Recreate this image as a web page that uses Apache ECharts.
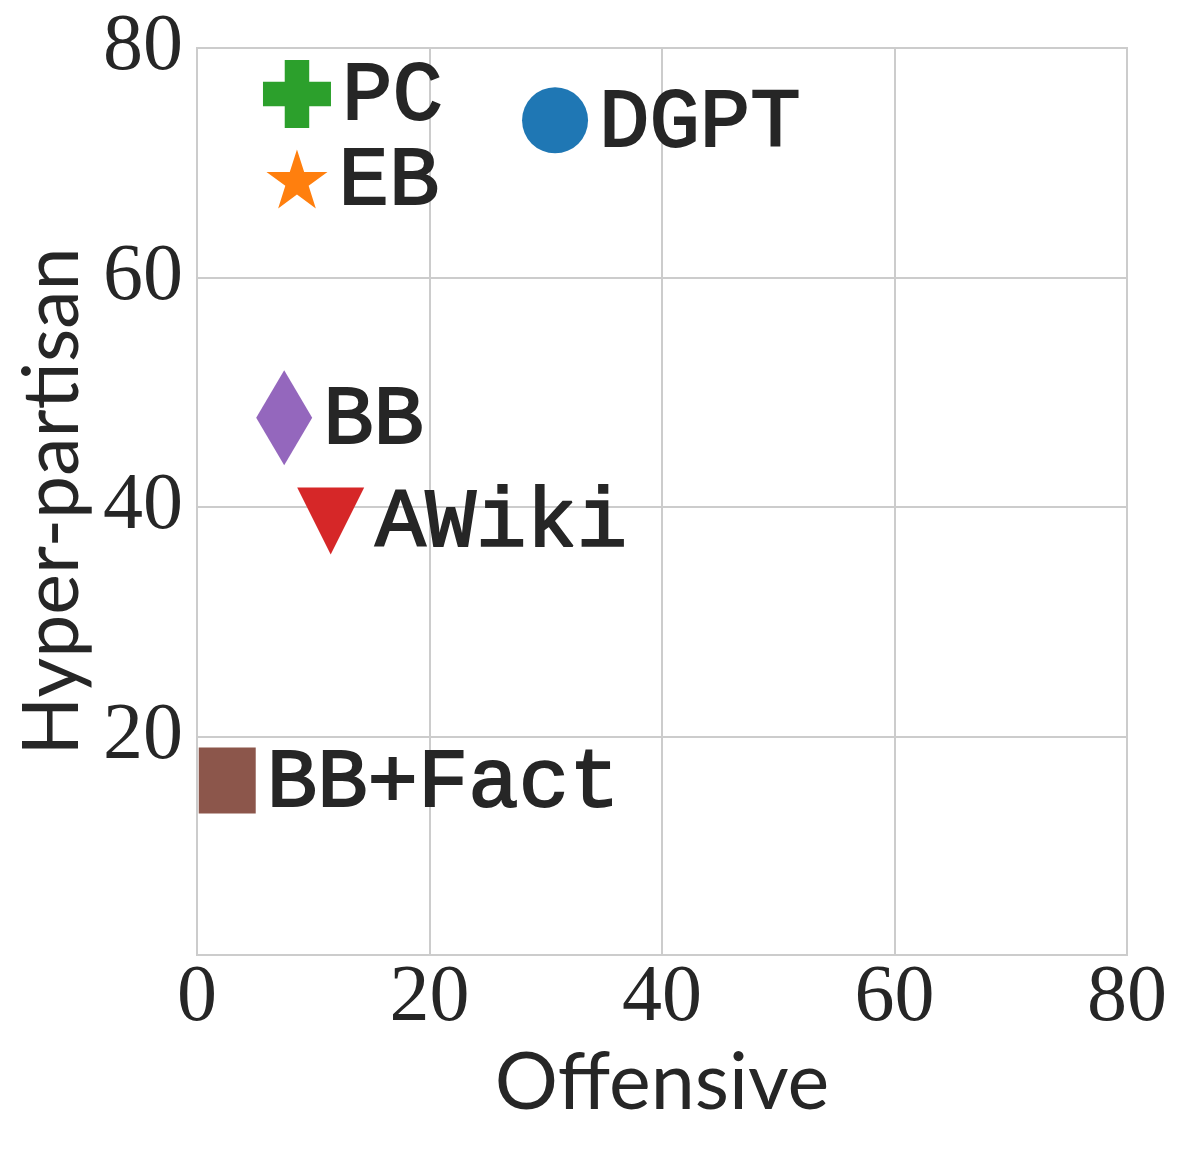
<!DOCTYPE html>
<html>
<head>
<meta charset="utf-8">
<title>Offensive vs Hyper-partisan</title>
<script src="https://cdn.jsdelivr.net/npm/echarts@6/dist/echarts.min.js"></script>
<style>
  html, body { margin: 0; padding: 0; background: #ffffff; }
  #chart { width: 1184px; height: 1150px; }
</style>
</head>
<body>
<div id="chart"></div>
<script>
// models and their scores
const models = ['DGPT', 'EB', 'PC', 'BB', 'AWiki', 'BB+Fact'];
const offensive = [30.8, 8.6, 8.6, 7.5, 11.5, 2.6];
const hyperPartisan = [73.7, 68.6, 76.0, 47.8, 38.8, 16.2];
const xTicks = [0, 20, 40, 60, 80];
const yTicks = [20, 40, 60, 80];

const colors = ['#1f77b4', '#ff7f0e', '#2ca02c', '#9467bd', '#d62728', '#8c564b'];
const STAR = 'path://M100,0L122.45,69.1L195.11,69.1L136.33,111.8L158.78,180.9L100,138.2L41.22,180.9L63.67,111.8L4.89,69.1L77.55,69.1Z';
const PLUS = 'path://M32,0H68V32H100V68H68V100H32V68H0V32H32Z';
const symbols = ['circle', STAR, PLUS, 'diamond', 'triangle', 'rect'];
// the square sits against the y axis and is cut by it, so only its visible part is drawn
const sizes = [[66, 66], [61, 59], [68, 68], [56, 95], [67, 67], [57, 66]];
const rotations = [0, 0, 0, 0, 180, 0];

const TEXT = '#262626';
const GRID = '#cccccc';

const chart = echarts.init(document.getElementById('chart'), null, {renderer: 'canvas'});

const series = models.map((name, i) => ({
    type: 'scatter',
    name: name,
    symbol: symbols[i],
    symbolSize: sizes[i],
    symbolRotate: rotations[i],
    itemStyle: {color: colors[i], opacity: 1},
    label: {
        show: true,
        position: 'right',
        distance: 11,
        offset: [0, 3],
        formatter: name,
        fontFamily: 'Liberation Mono',
        fontSize: 84,
        color: TEXT,
        textBorderColor: TEXT,
        textBorderWidth: 2
    },
    data: [[offensive[i], hyperPartisan[i]]]
}));

chart.setOption({
    animation: false,
    backgroundColor: '#ffffff',
    grid: {
        left: 197, right: 57, top: 48, bottom: 195,
        outerBoundsMode: 'none',
        show: true, borderColor: GRID, borderWidth: 2, backgroundColor: 'transparent'
    },
    xAxis: {
        type: 'value',
        min: 0, max: 80, interval: 20,
        name: 'Offensive',
        nameLocation: 'middle',
        nameGap: 80,
        nameTextStyle: {fontFamily: 'Lato', fontSize: 79, color: TEXT},
        axisLine: {show: false},
        axisTick: {show: false},
        axisLabel: {
            margin: 4,
            fontFamily: 'Liberation Serif', fontSize: 80, color: TEXT,
            customValues: xTicks
        },
        splitLine: {show: true, lineStyle: {color: GRID, width: 2}}
    },
    yAxis: {
        type: 'value',
        min: 1, max: 80,
        name: 'Hyper-partisan',
        nameLocation: 'middle',
        nameGap: 104,
        nameTextStyle: {fontFamily: 'Lato', fontSize: 77, color: TEXT},
        axisLine: {show: false},
        axisTick: {show: false, customValues: yTicks},
        axisLabel: {
            margin: 14,
            fontFamily: 'Liberation Serif', fontSize: 80, color: TEXT,
            customValues: yTicks
        },
        splitLine: {show: true, lineStyle: {color: GRID, width: 2}}
    },
    series: series
});
</script>
</body>
</html>
